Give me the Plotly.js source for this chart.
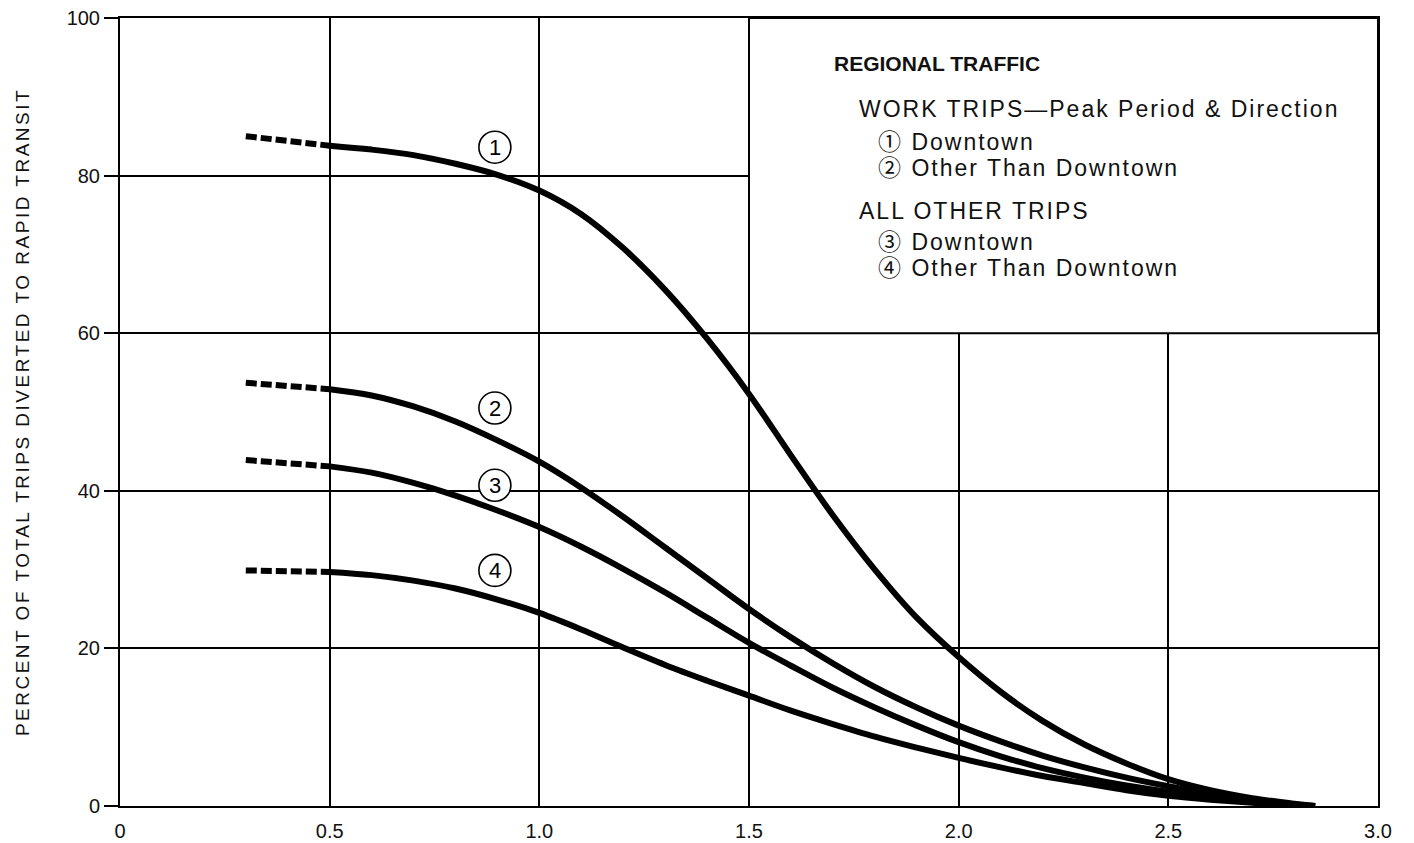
<!DOCTYPE html>
<html>
<head>
<meta charset="utf-8">
<script src="https://cdn.plot.ly/plotly-3.0.1.min.js"></script>
<style>
html,body{margin:0;padding:0;background:#fff;}
#chart{width:1414px;height:843px;}
#chart .ytitle{letter-spacing:2.5px;}
</style>
</head>
<body>
<div id="chart"></div>
<script>
// Ratio / index values along the horizontal axis
const xValues = [0.3, 0.4, 0.5, 0.6, 0.7, 0.8, 0.9, 1.0, 1.1, 1.2, 1.3, 1.4, 1.5, 1.6, 1.7, 1.8, 1.9, 2.0, 2.1, 2.2, 2.3, 2.4, 2.5, 2.6, 2.7, 2.8, 2.85];
// Portion drawn dashed (extrapolated) ends at this x
const dashedUntil = 0.5;

// 1 Work trips, downtown
const workDowntown = [85.0, 84.4, 83.8, 83.3, 82.6, 81.5, 80.1, 78.1, 75.1, 70.8, 65.5, 59.3, 52.3, 44.5, 36.9, 30.0, 23.9, 18.9, 14.5, 10.8, 7.8, 5.4, 3.4, 2.0, 1.0, 0.3, 0.0];
// 2 Work trips, other than downtown
const workOther = [53.7, 53.3, 52.9, 52.1, 50.7, 48.8, 46.4, 43.7, 40.4, 36.7, 32.8, 28.9, 25.0, 21.4, 18.1, 15.1, 12.5, 10.2, 8.2, 6.4, 4.9, 3.6, 2.5, 1.5, 0.7, 0.2, 0.0];
// 3 All other trips, downtown
const otherDowntown = [43.9, 43.5, 43.1, 42.3, 41.0, 39.4, 37.5, 35.4, 32.9, 30.1, 27.1, 23.9, 20.7, 17.8, 15.0, 12.5, 10.2, 8.1, 6.3, 4.8, 3.6, 2.6, 1.8, 1.1, 0.5, 0.15, 0.0];
// 4 All other trips, other than downtown
const otherOther = [29.9, 29.8, 29.7, 29.3, 28.6, 27.6, 26.2, 24.5, 22.4, 20.1, 17.9, 15.9, 14.0, 12.1, 10.4, 8.8, 7.4, 6.1, 4.9, 3.8, 2.9, 2.0, 1.3, 0.8, 0.4, 0.1, 0.0];

const seriesNames = ['Work trips — Downtown', 'Work trips — Other Than Downtown', 'All other trips — Downtown', 'All other trips — Other Than Downtown'];
const seriesValues = [workDowntown, workOther, otherDowntown, otherOther];

// Curve labels (circled numbers)
const curveLabels = ['1', '2', '3', '4'];
const curveLabelX = [0.894, 0.894, 0.894, 0.894];
const curveLabelY = [83.6, 50.5, 40.7, 29.9];

// Axis ticks
const xTickVals = [0, 0.5, 1.0, 1.5, 2.0, 2.5, 3.0];
const xTickText = ['0', '0.5', '1.0', '1.5', '2.0', '2.5', '3.0'];
const yTickVals = [0, 20, 40, 60, 80, 100];
const yTickText = ['0', '20', '40', '60', '80', '100'];

// Legend text lines
const legendLines = [
  {text: '<b>REGIONAL TRAFFIC</b>', indent: 0},
  {text: 'WORK TRIPS\u2014Peak Period &amp; Direction', indent: 1},
  {text: '\u2460 Downtown', indent: 2},
  {text: '\u2461 Other Than Downtown', indent: 2},
  {text: 'ALL OTHER TRIPS', indent: 1},
  {text: '\u2462 Downtown', indent: 2},
  {text: '\u2463 Other Than Downtown', indent: 2}
];
const legendLineY = [94.2, 88.45, 84.3, 81.0, 75.5, 71.6, 68.3];
const legendIndentX = [1.698, 1.758, 1.803];

const FONT = 'Liberation Sans, Arial, Helvetica, Noto Sans CJK JP, sans-serif';

const traces = [];
seriesValues.forEach((vals, i) => {
  const xd = [], yd = [], xs = [], ys = [];
  xValues.forEach((x, k) => {
    if (x <= dashedUntil) { xd.push(x); yd.push(vals[k]); }
    if (x >= dashedUntil) { xs.push(x); ys.push(vals[k]); }
  });
  traces.push({
    x: xd, y: yd, mode: 'lines', name: seriesNames[i] + ' (extrapolated)',
    line: {color: '#000', width: 6, dash: '11px,4px'}, showlegend: false, hoverinfo: 'skip'
  });
  traces.push({
    x: xs, y: ys, mode: 'lines', name: seriesNames[i],
    line: {color: '#000', width: 6, shape: 'spline', smoothing: 1.0}, showlegend: false
  });
});

const shapes = [
  // legend panel (covers grid in the upper-right block)
  {type: 'rect', xref: 'x', yref: 'y', x0: 1.5, x1: 3.0, y0: 60, y1: 100,
   fillcolor: '#fff', line: {color: '#000', width: 2}, layer: 'above'}
];
const annotations = [];

curveLabels.forEach((t, i) => {
  shapes.push({
    type: 'circle', xref: 'x', yref: 'y', xsizemode: 'pixel', ysizemode: 'pixel',
    xanchor: curveLabelX[i], yanchor: curveLabelY[i],
    x0: -16, x1: 16, y0: -16, y1: 16,
    fillcolor: '#fff', line: {color: '#000', width: 1.6}, layer: 'above'
  });
  annotations.push({
    xref: 'x', yref: 'y', x: curveLabelX[i], y: curveLabelY[i], text: t,
    showarrow: false, xanchor: 'center', yanchor: 'middle',
    font: {family: FONT, size: 22, color: '#000'}
  });
});

const legendStart = annotations.length;
legendLines.forEach((ln, i) => {
  annotations.push({
    xref: 'x', yref: 'y', x: legendIndentX[ln.indent], y: legendLineY[i], text: ln.text,
    showarrow: false, xanchor: 'left', yanchor: 'middle', align: 'left',
    font: {family: FONT, size: ln.indent === 0 ? 21 : 23, color: '#111'}
  });
});

const layout = {
  width: 1414, height: 843,
  margin: {l: 120, r: 36, t: 18, b: 37},
  paper_bgcolor: '#fff', plot_bgcolor: '#fff',
  font: {family: FONT, color: '#111'},
  showlegend: false,
  xaxis: {
    range: [0, 3.0], tickvals: xTickVals, ticktext: xTickText,
    showgrid: true, gridcolor: '#000', gridwidth: 2,
    showline: true, linecolor: '#000', linewidth: 2, mirror: true,
    ticks: '', zeroline: false, ticklabelstandoff: 6,
    tickfont: {family: FONT, size: 20, color: '#111'}
  },
  yaxis: {
    range: [0, 100], tickvals: yTickVals, ticktext: yTickText,
    showgrid: true, gridcolor: '#000', gridwidth: 2,
    showline: true, linecolor: '#000', linewidth: 2, mirror: true,
    ticks: 'outside', ticklen: 14, tickwidth: 2, tickcolor: '#000', zeroline: false,
    tickfont: {family: FONT, size: 20, color: '#111'},
    title: {text: 'PERCENT OF TOTAL TRIPS DIVERTED TO RAPID TRANSIT', standoff: 32,
            font: {family: FONT, size: 19, color: '#111'}}
  },
  shapes: shapes,
  annotations: annotations
};

Plotly.newPlot('chart', traces, layout, {displayModeBar: false, staticPlot: true}).then(gd => {
  const nodes = gd.querySelectorAll('.annotation-text');
  nodes.forEach((n, k) => {
    const li = k - legendStart;
    if (li >= 0 && legendLines[li] && legendLines[li].indent > 0) {
      n.style.letterSpacing = '2px';
    }
  });
});
</script>
</body>
</html>
